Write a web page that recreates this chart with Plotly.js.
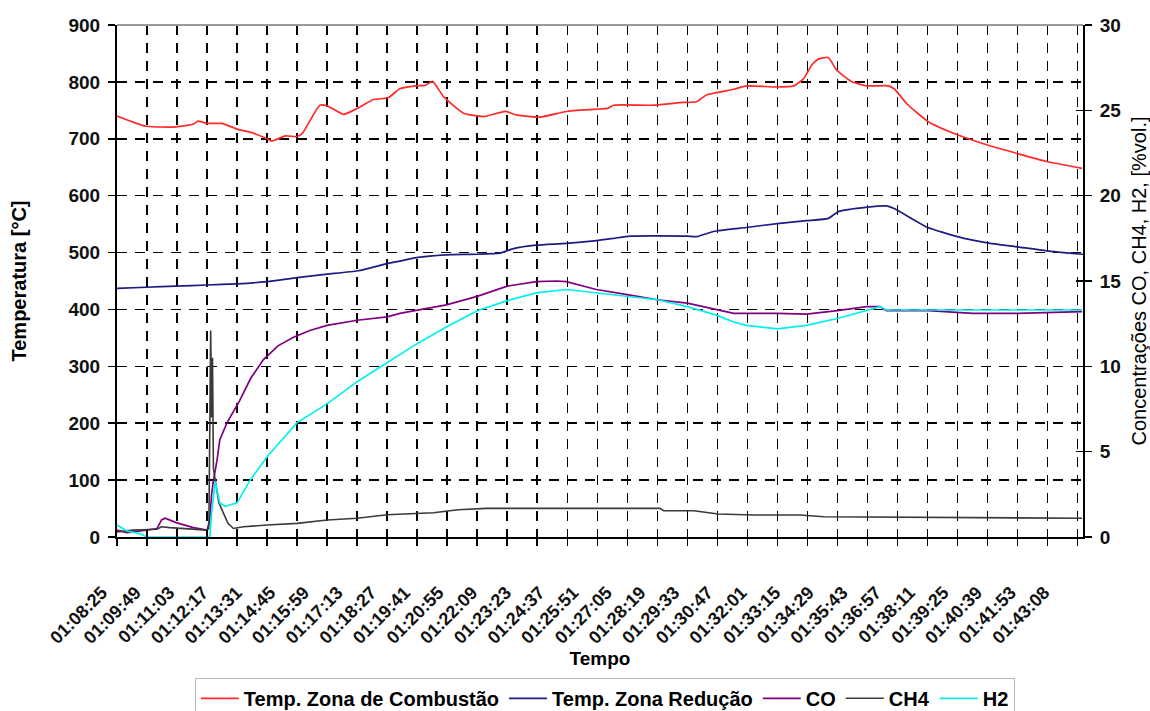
<!DOCTYPE html>
<html>
<head>
<meta charset="utf-8">
<script src="https://cdn.plot.ly/plotly-3.0.1.min.js"></script>
<style>html,body{margin:0;padding:0;background:#fff}</style>
</head>
<body>
<div id="chart" style="width:1150px;height:711px"></div>
<script>
// Tick labels (one every 37 samples)
const xLabels = ["01:08:25","01:09:49","01:11:03","01:12:17","01:13:31","01:14:45","01:15:59","01:17:13","01:18:27","01:19:41","01:20:55","01:22:09","01:23:23","01:24:37","01:25:51","01:27:05","01:28:19","01:29:33","01:30:47","01:32:01","01:33:15","01:34:29","01:35:43","01:36:57","01:38:11","01:39:25","01:40:39","01:41:53","01:43:08"];
const labelStep = 37;   // samples between tick labels
const gridStep = 33;    // samples between tick marks / gridlines
const nSamples = 1062;

// Temp. Zona de Combustão [°C]
const combX = [0,32,65,84,89,99,115,132,150,165,170,185,198,204,223,231,249,265,282,298,311,329,339,347,359,381,403,427,439,465,494,527,540,546,590,623,637,648,678,692,725,744,755,764,771,782,791,807,824,848,855,868,892,924,957,990,1022,1061];
const combT = [740,722,721,726,731,727,727,717,710,700,696,705,704,710,759,758,743,754,769,772,788,793,794,801,774,745,739,748,742,738,748,752,754,759,759,764,765,777,787,793,791,793,806,830,840,843,821,801,793,793,787,762,730,707,689,674,660,648];

// Temp. Zona Redução [°C]
const redX = [0,32,65,99,132,165,198,231,265,298,311,329,361,396,421,436,461,494,527,546,564,626,637,656,692,726,758,782,793,825,846,855,890,924,957,990,1022,1062];
const redT = [437,439,441,443,445,449,456,462,468,481,485,491,496,497,499,507,513,516,521,525,529,529,528,537,544,551,556,560,572,580,582,577,545,528,517,510,503,497];

// CO [%vol]
const coX = [0,11,32,44,49,53,65,84,99,102,104,106,110,113,121,135,147,161,177,194,212,231,264,297,311,362,396,429,461,483,494,527,561,594,627,659,678,726,758,792,824,839,846,892,941,990,1061];
const coV = [0.4,0.25,0.4,0.5,1.0,1.1,0.84,0.55,0.4,1.0,2.5,3.3,4.5,5.7,6.7,8.0,9.3,10.4,11.2,11.7,12.1,12.4,12.7,12.9,13.1,13.6,14.1,14.7,14.96,15.0,14.96,14.5,14.2,13.9,13.7,13.3,13.1,13.1,13.06,13.26,13.5,13.5,13.26,13.26,13.1,13.1,13.2];

// CH4 [%vol]
const ch4X = [0,18,44,49,58,99,101,102,103,104,105,106,108,112,117,122,128,139,165,198,231,264,297,329,348,375,406,597,601,634,661,700,751,777,1061];
const ch4V = [0.3,0.4,0.45,0.6,0.55,0.4,0.5,9.0,12.1,7.0,10.5,4.0,3.3,2.0,1.4,0.8,0.5,0.6,0.7,0.8,1.0,1.1,1.3,1.4,1.42,1.6,1.68,1.68,1.54,1.54,1.35,1.29,1.29,1.19,1.1];

// H2 [%vol]
const h2X = [0,11,25,33,102,104,108,113,119,132,146,165,198,231,264,297,329,362,396,429,461,494,527,561,594,627,659,678,692,726,758,792,824,839,846,890,957,1061];
const h2V = [0.7,0.35,0.2,0,0,1.4,3.24,2.0,1.8,2.0,3.3,4.7,6.7,7.8,9.1,10.2,11.3,12.3,13.26,13.85,14.3,14.5,14.3,14.1,13.9,13.5,13.0,12.6,12.4,12.2,12.4,12.8,13.3,13.5,13.3,13.3,13.34,13.3];

const tickVals = xLabels.map((_, i) => i * labelStep);
const FONT = '"Liberation Sans", Arial, sans-serif';
const GRID = {gridcolor:'#000', gridwidth:1.5, griddash:'10px,8px'};

const traces = [
  {x:combX, y:combT, name:'Temp. Zona de Combustão', mode:'lines', line:{color:'#ff2a2a', width:1.7, shape:'spline', smoothing:0.5}, yaxis:'y'},
  {x:redX, y:redT, name:'Temp. Zona Redução', mode:'lines', line:{color:'#1c1c82', width:1.7, shape:'spline', smoothing:0.5}, yaxis:'y'},
  {x:coX, y:coV, name:'CO', mode:'lines', line:{color:'#800080', width:1.7}, yaxis:'y2'},
  {x:ch4X, y:ch4V, name:'CH4', mode:'lines', line:{color:'#3a3a3a', width:1.6}, yaxis:'y2'},
  {x:h2X, y:h2V, name:'H2', mode:'lines', line:{color:'#00f0f0', width:1.7}, yaxis:'y2'},
  {x:[], y:[], xaxis:'x2', yaxis:'y3', showlegend:false, hoverinfo:'skip', mode:'lines'},
  {x:[], y:[], xaxis:'x', yaxis:'y4', showlegend:false, hoverinfo:'skip', mode:'lines'}
];

const layout = {
  width:1150, height:711,
  margin:{l:117, r:67, t:25, b:174, autoexpand:false},
  paper_bgcolor:'#fff', plot_bgcolor:'#fff',
  font:{family:FONT, size:18, color:'#000'},
  showlegend:true,
  legend:{orientation:'h', x:0.505, xanchor:'center', y:-0.275, yanchor:'top', itemwidth:38,
          bordercolor:'#b8b8b8', borderwidth:1, bgcolor:'#fff',
          font:{family:FONT, size:20, weight:'bold', color:'#000'}, traceorder:'normal'},
  xaxis:{
    range:[0, nSamples], tickmode:'array', tickvals:tickVals, ticktext:xLabels, tickangle:-45,
    ticks:'', showgrid:false, zeroline:false, showline:true, linecolor:'#000', linewidth:2,
    tickfont:{family:FONT, size:18, weight:'bold', color:'#111'}, ticklabelstandoff:36, ticklabelshift:-15,
    minor:Object.assign({tickmode:'linear', tick0:0, dtick:gridStep, ticks:'outside', ticklen:7, tickwidth:1.5, tickcolor:'#000', showgrid:true}, GRID),
    title:{text:'Tempo', font:{family:FONT, size:19, weight:'bold'}, standoff:0},
    automargin:false
  },
  xaxis2:{
    overlaying:'x', anchor:'y', range:[0, nSamples], tickmode:'linear', tick0:0, dtick:gridStep,
    ticks:'inside', ticklen:7, tickwidth:1.5, tickcolor:'#000', showticklabels:false,
    showgrid:false, zeroline:false, showline:false
  },
  yaxis:Object.assign({
    range:[0,900], tickmode:'linear', tick0:0, dtick:100, ticks:'outside', ticklen:7, tickwidth:1.5, tickcolor:'#000',
    showline:true, linecolor:'#000', linewidth:2, showgrid:true, zeroline:false,
    tickfont:{family:FONT, size:19, weight:'bold', color:'#111'}, ticklabelstandoff:4,
    title:{text:'Temperatura [°C]', font:{family:FONT, size:20, weight:'bold'}, standoff:36},
    automargin:false
  }, GRID),
  yaxis2:{
    overlaying:'y', side:'right', anchor:'x', range:[0,30], tickmode:'linear', tick0:0, dtick:5,
    ticks:'outside', ticklen:7, tickwidth:1.5, tickcolor:'#000', showline:true, linecolor:'#000', linewidth:2,
    showgrid:false, zeroline:false,
    tickfont:{family:FONT, size:19, weight:'bold', color:'#111'}, ticklabelstandoff:4,
    title:{text:'Concentrações CO, CH4, H2, [%vol.]', font:{family:FONT, size:20}, standoff:14},
    automargin:false
  },
  yaxis3:{
    overlaying:'y', side:'left', anchor:'x', range:[0,900], tickmode:'linear', tick0:0, dtick:100,
    ticks:'inside', ticklen:7, tickwidth:1.5, tickcolor:'#000', showticklabels:false, showgrid:false, zeroline:false, showline:false
  },
  yaxis4:{
    overlaying:'y', side:'right', anchor:'x', range:[0,30], tickmode:'linear', tick0:0, dtick:5,
    ticks:'inside', ticklen:7, tickwidth:1.5, tickcolor:'#000', showticklabels:false, showgrid:false, zeroline:false, showline:false
  },
  shapes:[
    {type:'line', xref:'paper', yref:'paper', x0:0, x1:1, y0:1, y1:1, line:{color:'#9a9a9a', width:2}, layer:'above'}
  ]
};

Plotly.newPlot('chart', traces, layout, {staticPlot:true, displayModeBar:false});
</script>
</body>
</html>
